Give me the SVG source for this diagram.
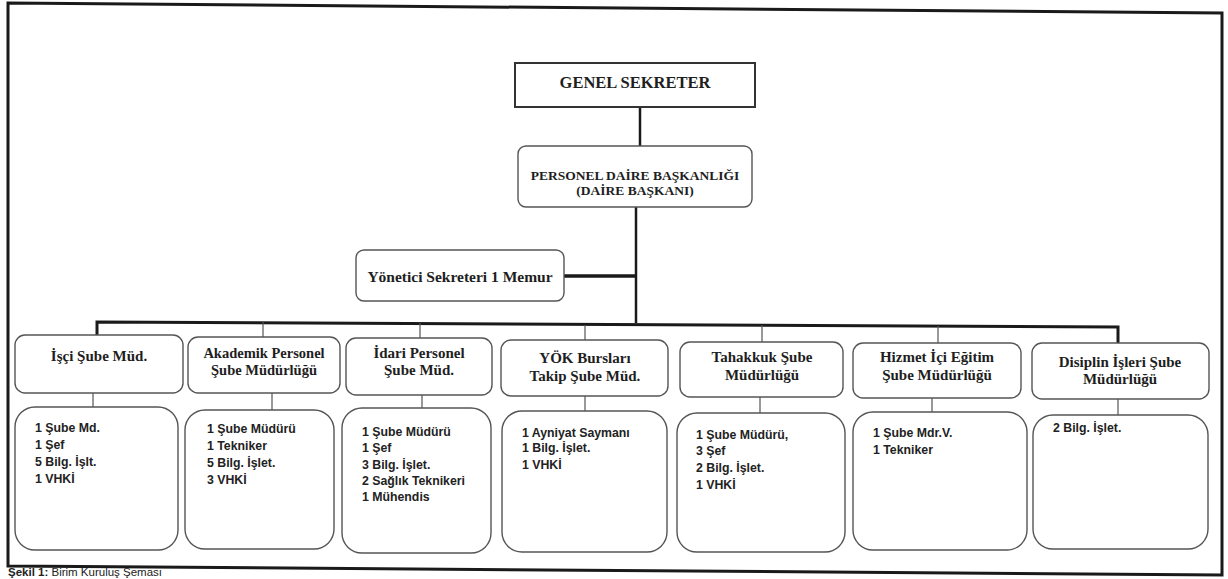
<svg xmlns="http://www.w3.org/2000/svg" width="1228" height="579" viewBox="0 0 1228 579">
<style>
.bg{fill:#fff}
.frame{fill:none;stroke:#1a1a1a;stroke-width:3}
.box{fill:#fff;stroke:#555;stroke-width:1.4}
.top{fill:#fff;stroke:#333;stroke-width:2}
.hd{font-family:"Liberation Serif","Times New Roman",serif;font-weight:bold;fill:#1e1e1e;text-anchor:middle}
.h15{font-size:15px}
.lst{font-family:"Liberation Sans",Arial,sans-serif;font-weight:bold;font-size:12.3px;fill:#222}
.thick{stroke:#1a1a1a;stroke-width:3;fill:none}
.main{stroke:#1a1a1a;stroke-width:2.5;fill:none}
.thin{stroke:#555;stroke-width:1.2;fill:none}
.cap{font-family:"Liberation Sans",Arial,sans-serif;font-size:11.5px;fill:#222}
</style>
<rect class="bg" x="0" y="0" width="1228" height="579"/>
<polygon class="frame" points="8,3 1222,13 1222,575 8,566"/>

<g id="connectors">
  <line class="main" x1="640" y1="107" x2="640" y2="146"/>
  <line class="main" x1="636" y1="207" x2="636" y2="323"/>
  <line class="thick" x1="564" y1="276" x2="636" y2="276" style="stroke-width:3.5"/>
  <polyline class="thick" points="97,335 97,322 1118,327 1118,343"/>
  <line class="thin" x1="263" y1="322" x2="263" y2="337"/>
  <line class="thin" x1="420" y1="323" x2="420" y2="338"/>
  <line class="thin" x1="585" y1="325" x2="585" y2="340"/>
  <line class="thin" x1="762" y1="325" x2="762" y2="342"/>
  <line class="thin" x1="938" y1="326" x2="938" y2="343"/>
  <line class="thin" x1="93" y1="393" x2="93" y2="407"/>
  <line class="thin" x1="272" y1="393" x2="272" y2="410"/>
  <line class="thin" x1="422" y1="395" x2="422" y2="408"/>
  <line class="thin" x1="585" y1="396" x2="585" y2="411"/>
  <line class="thin" x1="760" y1="397" x2="760" y2="413"/>
  <line class="thin" x1="932" y1="398" x2="932" y2="412"/>
  <line class="thin" x1="1118" y1="399" x2="1118" y2="415"/>
</g>

<g id="genel-sekreter">
  <rect class="top" x="515" y="63" width="240" height="44"/>
  <text class="hd" x="635" y="88" style="font-size:16.5px">GENEL SEKRETER</text>
</g>

<g id="personel-daire">
  <rect class="box" x="518" y="146" width="234" height="61" rx="8"/>
  <text class="hd" x="635" y="180" style="font-size:13.5px">PERSONEL DAİRE BAŞKANLIĞI</text>
  <text class="hd" x="635" y="195" style="font-size:13.5px">(DAİRE BAŞKANI)</text>
</g>

<g id="yonetici-sekreteri">
  <rect class="box" x="356" y="250" width="208" height="51" rx="8"/>
  <text class="hd" x="460" y="282" style="font-size:15.5px">Yönetici Sekreteri 1 Memur</text>
</g>

<g id="isci">
  <rect class="box" x="15" y="335" width="168" height="58" rx="10"/>
  <text class="hd h15" x="99" y="361">İşçi Şube Müd.</text>
  <rect class="box" x="15" y="407" width="163" height="143" rx="20"/>
  <text class="lst" x="35" y="432">1 Şube Md.</text>
  <text class="lst" x="35" y="449">1 Şef</text>
  <text class="lst" x="35" y="466">5 Bilg. İşlt.</text>
  <text class="lst" x="35" y="483">1 VHKİ</text>
</g>

<g id="akademik">
  <rect class="box" x="188" y="337" width="152" height="56" rx="10"/>
  <text class="hd" x="264" y="358" style="font-size:14.5px">Akademik Personel</text>
  <text class="hd" x="264" y="375" style="font-size:14.5px">Şube Müdürlüğü</text>
  <rect class="box" x="185" y="410" width="149" height="139" rx="20"/>
  <text class="lst" x="207" y="433">1 Şube Müdürü</text>
  <text class="lst" x="207" y="450">1 Tekniker</text>
  <text class="lst" x="207" y="467">5 Bilg. İşlet.</text>
  <text class="lst" x="207" y="484">3 VHKİ</text>
</g>

<g id="idari">
  <rect class="box" x="346" y="338" width="146" height="57" rx="10"/>
  <text class="hd h15" x="419" y="358">İdari Personel</text>
  <text class="hd h15" x="419" y="375">Şube Müd.</text>
  <rect class="box" x="342" y="408" width="149" height="145" rx="20"/>
  <text class="lst" x="362" y="436">1 Şube Müdürü</text>
  <text class="lst" x="362" y="452">1 Şef</text>
  <text class="lst" x="362" y="469">3 Bilg. İşlet.</text>
  <text class="lst" x="362" y="485">2 Sağlık Teknikeri</text>
  <text class="lst" x="362" y="501">1 Mühendis</text>
</g>

<g id="yok">
  <rect class="box" x="501" y="340" width="167" height="56" rx="10"/>
  <text class="hd h15" x="585" y="363">YÖK Bursları</text>
  <text class="hd h15" x="585" y="381">Takip Şube Müd.</text>
  <rect class="box" x="502" y="411" width="165" height="141" rx="20"/>
  <text class="lst" x="522" y="437">1 Ayniyat Saymanı</text>
  <text class="lst" x="522" y="452">1 Bilg. İşlet.</text>
  <text class="lst" x="522" y="469">1 VHKİ</text>
</g>

<g id="tahakkuk">
  <rect class="box" x="680" y="342" width="163" height="55" rx="10"/>
  <text class="hd h15" x="762" y="362">Tahakkuk Şube</text>
  <text class="hd h15" x="762" y="380">Müdürlüğü</text>
  <rect class="box" x="677" y="413" width="168" height="139" rx="20"/>
  <text class="lst" x="696" y="439">1 Şube Müdürü,</text>
  <text class="lst" x="696" y="455">3 Şef</text>
  <text class="lst" x="696" y="472">2 Bilg. İşlet.</text>
  <text class="lst" x="696" y="489">1 VHKİ</text>
</g>

<g id="hizmet-ici">
  <rect class="box" x="853" y="343" width="168" height="55" rx="10"/>
  <text class="hd h15" x="937" y="362">Hizmet İçi Eğitim</text>
  <text class="hd h15" x="937" y="380">Şube Müdürlüğü</text>
  <rect class="box" x="853" y="412" width="174" height="138" rx="20"/>
  <text class="lst" x="873" y="437">1 Şube Mdr.V.</text>
  <text class="lst" x="873" y="454">1 Tekniker</text>
</g>

<g id="disiplin">
  <rect class="box" x="1032" y="343" width="177" height="56" rx="10"/>
  <text class="hd h15" x="1120" y="367">Disiplin İşleri Şube</text>
  <text class="hd h15" x="1120" y="384">Müdürlüğü</text>
  <rect class="box" x="1033" y="415" width="175" height="134" rx="20"/>
  <text class="lst" x="1053" y="432">2 Bilg. İşlet.</text>
</g>

<text class="cap" x="8" y="576"><tspan font-weight="bold">Şekil 1:</tspan> Birim Kuruluş Şeması</text>
</svg>
